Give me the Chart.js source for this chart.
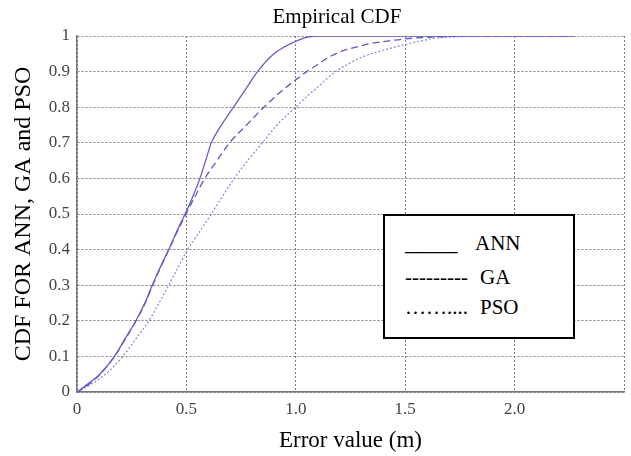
<!DOCTYPE html>
<html>
<head>
<meta charset="utf-8">
<script src="https://cdn.jsdelivr.net/npm/chart.js"></script>
<style>
  body { margin: 0; background: #fff; }
  #wrap { position: relative; width: 631px; height: 456px; }
  #title { position: absolute; left: 0; top: 4px; width: 674px; text-align: center;
           font: 21px "Liberation Serif", serif; line-height: 24px; color: #000; }
  #legendBox { position: absolute; left: 383px; top: 214px; width: 192px; height: 125px;
               box-sizing: border-box; border: 2px solid #000; background: #fff;
               font: 21px "Liberation Serif", serif; color: #000; }
  #legendBox div { position: absolute; white-space: pre; line-height: 24px; }
</style>
</head>
<body>
<div id="wrap">
  <canvas id="cdfChart" width="631" height="456"></canvas>
  <div id="title">Empirical CDF</div>
  <div id="legendBox">
    <div style="left:20px; top:15px;">_____</div>
    <div style="left:90px; top:15px;">ANN</div>
    <div style="left:20px; top:49px;">---------</div>
    <div style="left:95px; top:49px;">GA</div>
    <div style="left:20px; top:79px;">……....</div>
    <div style="left:95px; top:79px;">PSO</div>
  </div>
</div>

<script>
    // Empirical CDF curves (x = error in m, y = cumulative probability)
    const annX = [0, 0.044, 0.104, 0.171, 0.22, 0.269, 0.31, 0.344, 0.38, 0.419, 0.455, 0.494, 0.53, 0.562, 0.588, 0.614, 0.66, 0.715, 0.77, 0.825, 0.9, 0.95, 1.0, 1.05, 1.1, 2.25];
    const annY = [0, 0.02, 0.05, 0.1, 0.15, 0.2, 0.25, 0.3, 0.35, 0.4, 0.45, 0.5, 0.55, 0.6, 0.65, 0.7, 0.75, 0.8, 0.85, 0.9, 0.95, 0.97, 0.985, 0.996, 1.0, 1.0];

    const gaX = [0, 0.05, 0.106, 0.172, 0.222, 0.27, 0.312, 0.346, 0.382, 0.42, 0.458, 0.498, 0.54, 0.584, 0.64, 0.697, 0.775, 0.854, 0.944, 1.0, 1.05, 1.1, 1.15, 1.2, 1.27, 1.35, 1.41, 1.5, 1.62, 1.71, 1.83, 2.27];
    const gaY = [0, 0.02, 0.05, 0.1, 0.15, 0.2, 0.25, 0.3, 0.35, 0.4, 0.45, 0.5, 0.55, 0.6, 0.65, 0.7, 0.75, 0.8, 0.85, 0.877, 0.9, 0.92, 0.94, 0.955, 0.968, 0.98, 0.985, 0.992, 0.997, 0.999, 1.0, 1.0];

    const psoX = [0, 0.06, 0.13, 0.209, 0.27, 0.329, 0.375, 0.419, 0.462, 0.506, 0.56, 0.614, 0.665, 0.719, 0.78, 0.847, 0.914, 1.0, 1.05, 1.11, 1.17, 1.23, 1.3, 1.36, 1.43, 1.5, 1.57, 1.64, 1.75, 1.85, 2.27];
    const psoY = [0, 0.02, 0.05, 0.1, 0.15, 0.2, 0.25, 0.3, 0.35, 0.4, 0.45, 0.5, 0.55, 0.6, 0.65, 0.7, 0.75, 0.8, 0.83, 0.862, 0.895, 0.918, 0.94, 0.953, 0.965, 0.976, 0.986, 0.994, 0.998, 1.0, 1.0];

    const xTicks = ['0', '0.5', '1.0', '1.5', '2.0', ''];
    const yTicks = ['0', '0.1', '0.2', '0.3', '0.4', '0.5', '0.6', '0.7', '0.8', '0.9', '1'];

    const toPoints = (xs, ys) => xs.map((x, i) => ({ x: x, y: ys[i] }));
    const serif = '"Liberation Serif", "Times New Roman", serif';

    const cdfData = {
        datasets: [{
            label: 'ANN',
            data: toPoints(annX, annY),
            borderColor: '#5f5fc8',
            borderWidth: 1.3,
            pointRadius: 0,
            cubicInterpolationMode: 'monotone'
        },
        {
            label: 'GA',
            data: toPoints(gaX, gaY),
            borderColor: '#5a5ac0',
            borderWidth: 1.3,
            borderDash: [7, 4],
            pointRadius: 0,
            cubicInterpolationMode: 'monotone'
        },
        {
            label: 'PSO',
            data: toPoints(psoX, psoY),
            borderColor: '#8585d8',
            borderWidth: 1.2,
            borderDash: [2, 2],
            pointRadius: 0,
            cubicInterpolationMode: 'monotone'
        }]
    };

    const gridStyle = {
        color: '#7a7a7a',
        lineWidth: 1,
        drawTicks: false
    };

    const cdfConfig = {
        type: 'line',
        data: cdfData,
        options: {
            responsive: false,
            animation: false,
            layout: { padding: { top: 36, right: 0, left: 0, bottom: 0 } },
            plugins: {
                legend: { display: false },
                title: { display: false },
                tooltip: { enabled: false }
            },
            scales: {
                x: {
                    type: 'linear',
                    min: 0,
                    max: 2.5,
                    afterFit: scale => { scale.height = 64; },
                    grid: Object.assign({}, gridStyle),
                    border: { display: true, color: '#777', width: 1.5, dash: [2, 2] },
                    ticks: {
                        stepSize: 0.5,
                        padding: 7,
                        color: '#444',
                        font: { family: serif, size: 17 },
                        maxRotation: 0,
                        callback: (v, i) => xTicks[i]
                    },
                    title: {
                        display: true,
                        text: 'Error value (m)',
                        color: '#000',
                        font: { family: serif, size: 23 },
                        padding: { top: 0, bottom: 1 }
                    }
                },
                y: {
                    min: 0,
                    max: 1,
                    afterFit: scale => { scale.width = 77; },
                    grid: Object.assign({}, gridStyle),
                    border: { display: true, color: '#777', width: 1.5, dash: [2, 2] },
                    ticks: {
                        stepSize: 0.1,
                        padding: 7,
                        color: '#444',
                        font: { family: serif, size: 17 },
                        callback: (v, i) => yTicks[i]
                    },
                    title: {
                        display: true,
                        text: 'CDF FOR ANN, GA and PSO',
                        color: '#000',
                        font: { family: serif, size: 24 },
                        padding: { top: 9, bottom: 0 }
                    }
                }
            }
        }
    };

    const cdfChart = new Chart(document.getElementById('cdfChart'), cdfConfig);
</script>
</body>
</html>
